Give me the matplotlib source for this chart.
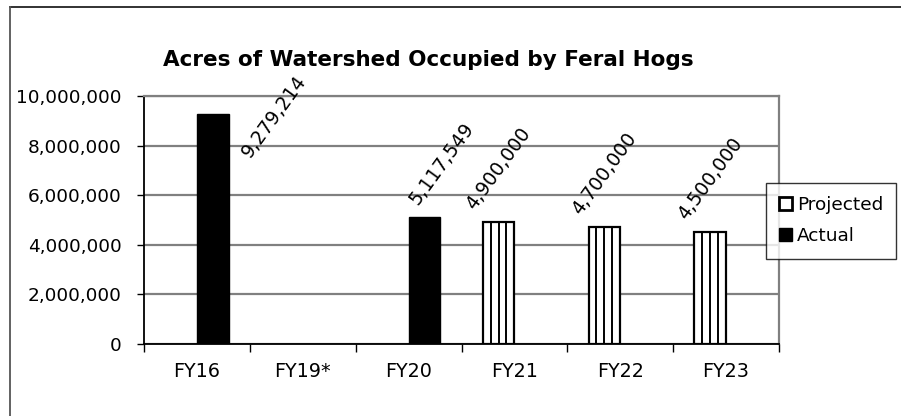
import matplotlib
matplotlib.use("Agg")
import matplotlib.pyplot as plt
import numpy as np
from matplotlib.patches import Patch
from matplotlib.lines import Line2D

categories = ["FY16", "FY19*", "FY20", "FY21", "FY22", "FY23"]
actual = [9279214, np.nan, 5117549, np.nan, np.nan, np.nan]
projected = [np.nan, np.nan, np.nan, 4900000, 4700000, 4500000]
y_ticks = [0, 2000000, 4000000, 6000000, 8000000, 10000000]
title = "Acres of Watershed Occupied by Feral Hogs"

plt.rcParams['font.family'] = ['DejaVu Sans']

W, H = 901, 416
fig = plt.figure(figsize=(W / 100, H / 100), dpi=100)
fig.patch.set_facecolor('white')

# outer chart frame
fig.add_artist(Line2D([10 / W, 1.0], [1 - 7 / H, 1 - 7 / H], color='#222222', lw=1.3, transform=fig.transFigure))
fig.add_artist(Line2D([10 / W, 10 / W], [0, 1 - 7 / H], color='#555555', lw=1.3, transform=fig.transFigure))

ax = fig.add_axes([144 / W, 1 - 344 / H, (779 - 144) / W, (344 - 96) / H])

x = np.arange(len(categories))
bw = 0.3
proj = np.array(projected, dtype=float)
act = np.array(actual, dtype=float)
ax.bar(x - bw / 2, proj, width=bw, facecolor='white', edgecolor='black',
       linewidth=1.6, zorder=3)
# vertical stripe pattern inside the projected bars (4 stripes)
for i in range(len(categories)):
    if np.isnan(proj[i]):
        continue
    left = x[i] - bw
    ax.vlines([left + bw * k / 4 for k in (1, 2, 3)], 0, proj[i],
              color='black', lw=1.4, zorder=4)
ax.bar(x + bw / 2, act, width=bw, facecolor='black', edgecolor='black',
       linewidth=1.0, zorder=3)

ax.set_xlim(-0.5, len(categories) - 0.5)
ax.set_ylim(0, 10000000)
ax.set_yticks(y_ticks)
ax.set_yticklabels([f"{v:,}" for v in y_ticks])
ax.set_xticks(x)
ax.set_xticklabels(categories)
ax.set_xticks(np.arange(len(categories) + 1) - 0.5, minor=True)
ax.tick_params(axis='x', which='major', length=0, pad=13, labelsize=13.8)
ax.tick_params(axis='x', which='minor', length=6, width=1, color='black', direction='out')
ax.tick_params(axis='y', length=5, width=1, color='black', pad=11, labelsize=13.3)

ax.grid(axis='y', color='#808080', lw=1.6, zorder=0)
ax.set_axisbelow(True)
for s in ['top', 'right']:
    ax.spines[s].set_color('#808080')
    ax.spines[s].set_linewidth(1.6)
for s in ['left', 'bottom']:
    ax.spines[s].set_color('black')
    ax.spines[s].set_linewidth(1.3)

# data labels (rotated, Excel-like placement)
label_offsets = {0: (61, 3), 2: (17, -53)}
for i in range(len(categories)):
    for vals, xoff, is_act in ((proj, -bw / 2, False), (act, bw / 2, True)):
        v = vals[i]
        if np.isnan(v):
            continue
        dx, dy = label_offsets.get(i, (0, -54)) if is_act else (0, -54)
        ax.annotate(f"{int(v):,}", xy=(x[i] + xoff, v), xytext=(dx, -dy),
                    textcoords='offset pixels', rotation=54, ha='center', va='center',
                    rotation_mode='anchor', fontsize=13.6, annotation_clip=False, zorder=5)

fig.text(428 / W, 1 - 66 / H, title, ha='center', va='baseline', fontsize=15.5, fontweight='bold')

handles = [Patch(facecolor='white', edgecolor='black', linewidth=2.0),
           Patch(facecolor='black', edgecolor='black')]
leg = fig.legend(handles, ["Projected", "Actual"], loc='upper left',
                 bbox_to_anchor=(766 / W, 1 - 183 / H), bbox_transform=fig.transFigure,
                 fontsize=13.3, frameon=True, fancybox=False, shadow=False,
                 handlelength=0.7, handleheight=0.7, handletextpad=0.25,
                 labelspacing=0.7, borderpad=0.72, borderaxespad=0)
leg.get_frame().set_edgecolor('black')
leg.get_frame().set_linewidth(1.0)

fig.savefig("out.png", dpi=100)
